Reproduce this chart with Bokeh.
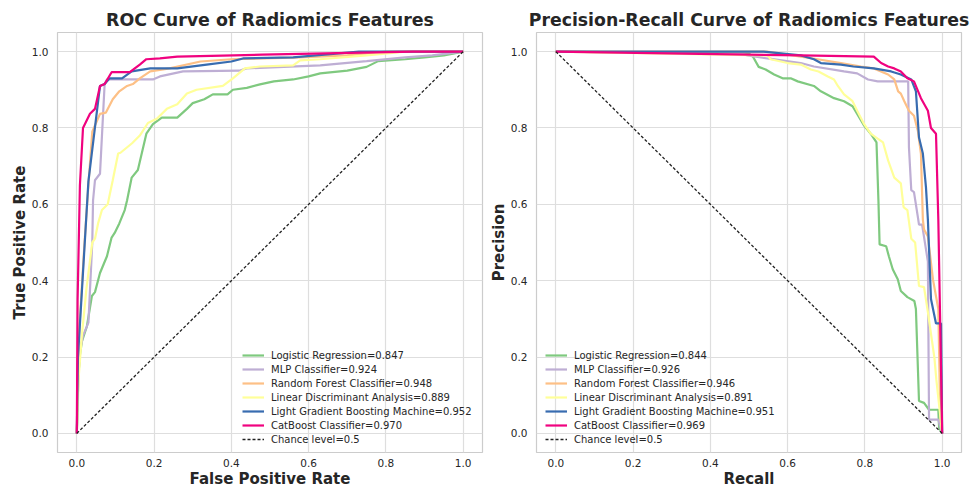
from bokeh.plotting import figure
from bokeh.layouts import row
from bokeh.models import Legend, LegendItem, FixedTicker, NumeralTickFormatter, Range1d
from bokeh.embed import file_html
from bokeh.resources import INLINE

# ---------------- data ----------------
model_names = ["Logistic Regression", "MLP Classifier", "Random Forest Classifier",
               "Linear Discriminant Analysis", "Light Gradient Boosting Machine", "CatBoost Classifier"]
colors = ["#7fc97f", "#beaed4", "#fdc086", "#ffff99", "#386cb0", "#f0027f"]
roc_auc = ["0.847", "0.924", "0.948", "0.889", "0.952", "0.970"]
pr_auc = ["0.844", "0.926", "0.946", "0.891", "0.951", "0.969"]
tick_values = [0.0, 0.2, 0.4, 0.6, 0.8, 1.0]

lr_fpr = [0.0, 0.004, 0.008, 0.013, 0.026, 0.039, 0.047, 0.06, 0.078, 0.09, 0.098, 0.11, 0.124, 0.13, 0.142, 0.158, 0.18, 0.197, 0.22, 0.26, 0.285, 0.30, 0.33, 0.352, 0.39, 0.404, 0.44, 0.474, 0.51, 0.56, 0.60, 0.63, 0.70, 0.75, 0.78, 0.85, 0.90, 0.95, 1.0]
lr_tpr = [0.0, 0.15, 0.205, 0.24, 0.28, 0.36, 0.37, 0.42, 0.464, 0.513, 0.525, 0.55, 0.585, 0.61, 0.67, 0.69, 0.785, 0.81, 0.827, 0.827, 0.85, 0.865, 0.875, 0.888, 0.888, 0.90, 0.905, 0.914, 0.922, 0.927, 0.935, 0.943, 0.95, 0.96, 0.975, 0.98, 0.985, 0.99, 1.0]
mlp_fpr = [0.0, 0.004, 0.008, 0.016, 0.03, 0.04, 0.042, 0.047, 0.06, 0.072, 0.078, 0.197, 0.215, 0.275, 0.42, 0.44, 0.63, 0.75, 0.85, 0.92, 1.0]
mlp_tpr = [0.0, 0.15, 0.215, 0.256, 0.29, 0.50, 0.61, 0.663, 0.68, 0.915, 0.927, 0.927, 0.935, 0.948, 0.95, 0.956, 0.964, 0.975, 0.985, 0.99, 1.0]
rf_fpr = [0.0, 0.005, 0.02, 0.03, 0.04, 0.06, 0.075, 0.093, 0.11, 0.13, 0.145, 0.163, 0.19, 0.24, 0.32, 0.40, 0.56, 0.70, 0.80, 1.0]
rf_tpr = [0.0, 0.25, 0.5, 0.65, 0.79, 0.837, 0.84, 0.875, 0.896, 0.91, 0.915, 0.93, 0.948, 0.956, 0.974, 0.98, 0.984, 0.99, 1.0, 1.0]
lda_fpr = [0.0, 0.005, 0.013, 0.025, 0.04, 0.047, 0.055, 0.065, 0.08, 0.093, 0.107, 0.113, 0.143, 0.163, 0.184, 0.207, 0.233, 0.26, 0.285, 0.31, 0.378, 0.404, 0.435, 0.474, 0.56, 0.578, 0.63, 0.75, 0.85, 1.0]
lda_tpr = [0.0, 0.15, 0.256, 0.38, 0.50, 0.51, 0.55, 0.585, 0.60, 0.663, 0.733, 0.735, 0.76, 0.78, 0.813, 0.824, 0.85, 0.862, 0.89, 0.90, 0.91, 0.93, 0.956, 0.961, 0.964, 0.977, 0.98, 0.99, 1.0, 1.0]
lgb_fpr = [0.0, 0.003, 0.03, 0.06, 0.072, 0.085, 0.117, 0.142, 0.19, 0.26, 0.336, 0.40, 0.43, 0.56, 0.73, 1.0]
lgb_tpr = [0.0, 0.2, 0.66, 0.91, 0.915, 0.93, 0.93, 0.948, 0.956, 0.956, 0.966, 0.974, 0.982, 0.985, 1.0, 1.0]
cb_fpr = [0.0, 0.002, 0.008, 0.016, 0.034, 0.047, 0.06, 0.072, 0.09, 0.137, 0.163, 0.18, 0.215, 0.26, 0.48, 0.87, 1.0]
cb_tpr = [0.0, 0.35, 0.65, 0.80, 0.837, 0.85, 0.91, 0.915, 0.946, 0.946, 0.966, 0.98, 0.982, 0.987, 0.992, 1.0, 1.0]

lr_rec = [0.0, 0.50, 0.51, 0.525, 0.543, 0.565, 0.587, 0.608, 0.626, 0.668, 0.686, 0.72, 0.746, 0.768, 0.78, 0.798, 0.815, 0.83, 0.835, 0.838, 0.855, 0.862, 0.872, 0.885, 0.893, 0.91, 0.928, 0.932, 0.94, 0.953, 0.966, 0.99, 0.992, 1.0]
lr_prec = [1.0, 0.995, 0.987, 0.96, 0.953, 0.94, 0.93, 0.93, 0.922, 0.91, 0.896, 0.878, 0.87, 0.857, 0.837, 0.806, 0.785, 0.762, 0.61, 0.495, 0.49, 0.464, 0.43, 0.404, 0.373, 0.357, 0.347, 0.326, 0.085, 0.08, 0.062, 0.062, 0.015, 0.0]
mlp_rec = [0.0, 0.478, 0.496, 0.548, 0.634, 0.668, 0.746, 0.78, 0.808, 0.833, 0.912, 0.914, 0.92, 0.927, 0.937, 0.94, 0.948, 0.963, 0.966, 0.99, 1.0]
mlp_prec = [1.0, 0.995, 0.99, 0.982, 0.97, 0.961, 0.948, 0.943, 0.927, 0.922, 0.922, 0.749, 0.637, 0.632, 0.567, 0.547, 0.547, 0.45, 0.036, 0.036, 0.0]
rf_rec = [0.0, 0.548, 0.58, 0.634, 0.678, 0.738, 0.79, 0.823, 0.86, 0.876, 0.886, 0.893, 0.902, 0.914, 0.927, 0.937, 0.945, 0.95, 0.953, 0.963, 0.976, 0.99, 0.995, 1.0]
rf_prec = [1.0, 1.0, 0.995, 0.987, 0.98, 0.97, 0.961, 0.956, 0.94, 0.927, 0.896, 0.89, 0.87, 0.845, 0.832, 0.793, 0.733, 0.56, 0.534, 0.516, 0.404, 0.326, 0.05, 0.0]
lda_rec = [0.0, 0.548, 0.556, 0.60, 0.634, 0.66, 0.68, 0.704, 0.72, 0.73, 0.746, 0.768, 0.78, 0.798, 0.815, 0.833, 0.847, 0.86, 0.876, 0.893, 0.90, 0.903, 0.91, 0.92, 0.93, 0.94, 0.953, 0.963, 0.98, 0.985, 1.0]
lda_prec = [1.0, 0.99, 0.98, 0.97, 0.966, 0.953, 0.948, 0.935, 0.927, 0.91, 0.888, 0.87, 0.845, 0.81, 0.785, 0.772, 0.762, 0.715, 0.67, 0.655, 0.593, 0.59, 0.585, 0.51, 0.50, 0.386, 0.383, 0.318, 0.197, 0.14, 0.0]
lgb_rec = [0.0, 0.538, 0.634, 0.668, 0.686, 0.738, 0.77, 0.823, 0.868, 0.893, 0.92, 0.932, 0.94, 0.95, 0.958, 0.963, 0.971, 0.984, 0.997, 1.0]
lgb_prec = [1.0, 1.0, 0.99, 0.98, 0.97, 0.966, 0.961, 0.956, 0.948, 0.94, 0.927, 0.896, 0.775, 0.733, 0.645, 0.56, 0.352, 0.288, 0.288, 0.0]
cb_rec = [0.0, 0.634, 0.823, 0.842, 0.86, 0.876, 0.893, 0.91, 0.927, 0.945, 0.963, 0.971, 0.984, 0.99, 1.0]
cb_prec = [1.0, 0.99, 0.987, 0.97, 0.961, 0.956, 0.948, 0.93, 0.922, 0.878, 0.845, 0.80, 0.785, 0.56, 0.0]

chance_x = [0.0, 1.0]
roc_chance_y = [0.0, 1.0]
pr_chance_y = [1.0, 0.0]

roc_series = [(lr_fpr, lr_tpr), (mlp_fpr, mlp_tpr), (rf_fpr, rf_tpr),
              (lda_fpr, lda_tpr), (lgb_fpr, lgb_tpr), (cb_fpr, cb_tpr)]
pr_series = [(lr_rec, lr_prec), (mlp_rec, mlp_prec), (rf_rec, rf_prec),
             (lda_rec, lda_prec), (lgb_rec, lgb_prec), (cb_rec, cb_prec)]

FONT = "DejaVu Sans"
TXT = "#262626"


def make_fig(title, title_size, xlabel, ylabel, series, aucs, chance_y, left, right, legend_x):
    p = figure(frame_width=425, height=490, output_backend="svg", toolbar_location=None,
               x_range=Range1d(-0.05, 1.05), y_range=Range1d(-0.05, 1.05),
               min_border_left=left, min_border_right=right,
               min_border_top=32, min_border_bottom=37)
    p.background_fill_color = "white"
    p.border_fill_color = "white"
    p.outline_line_color = "#cccccc"
    p.outline_line_width = 1.2

    p.title.text = title
    p.title.align = "center"
    p.title.text_font = FONT
    p.title.text_font_size = title_size
    p.title.text_font_style = "bold"
    p.title.text_color = TXT
    p.title.standoff = 6

    for ax in (p.xaxis[0], p.yaxis[0]):
        ax.ticker = FixedTicker(ticks=tick_values)
        ax.formatter = NumeralTickFormatter(format="0.0")
        ax.axis_line_color = None
        ax.major_tick_line_color = None
        ax.minor_tick_line_color = None
        ax.major_tick_out = 0
        ax.major_tick_in = 0
        ax.minor_tick_out = 0
        ax.minor_tick_in = 0
        ax.major_label_text_font = FONT
        ax.major_label_text_font_size = "10.5px"
        ax.major_label_text_color = TXT
        ax.axis_label_text_font = FONT
        ax.axis_label_text_font_size = "15px"
        ax.axis_label_text_font_style = "bold"
        ax.axis_label_text_color = TXT
    p.xaxis.major_label_standoff = 6
    p.xaxis.axis_label_standoff = 0
    p.yaxis.major_label_standoff = 9
    p.yaxis.axis_label_standoff = 0
    p.xaxis.axis_label = xlabel
    p.yaxis.axis_label = ylabel

    for g in (p.xgrid[0], p.ygrid[0]):
        g.ticker = FixedTicker(ticks=tick_values)
        g.grid_line_color = "#dedede"
        g.grid_line_width = 1.2

    items = []
    for name, (xs, ys), auc, col in zip(model_names, series, aucs, colors):
        r = p.line(xs, ys, line_color=col, line_width=2.2)
        items.append(LegendItem(label=f"{name}={auc}", renderers=[r]))
    rc = p.line(chance_x, chance_y, line_color="#222222", line_width=1.3, line_dash="3 2")
    items.append(LegendItem(label="Chance level=0.5", renderers=[rc]))

    leg = Legend(items=items, location=(legend_x, 6))
    leg.background_fill_alpha = 0.0
    leg.border_line_color = None
    leg.padding = 0
    leg.margin = 0
    leg.spacing = 0
    leg.glyph_height = 14
    leg.label_height = 14
    leg.glyph_width = 22
    leg.label_standoff = 7
    leg.label_text_font = FONT
    leg.label_text_font_size = "10px"
    leg.label_text_color = TXT
    p.add_layout(leg)
    return p


p1 = make_fig("ROC Curve of Radiomics Features", "17.4px", "False Positive Rate", "True Positive Rate",
              roc_series, roc_auc, roc_chance_y, 57, 4, 185)
p2 = make_fig("Precision-Recall Curve of Radiomics Features", "17.3px", "Recall", "Precision",
              pr_series, pr_auc, pr_chance_y, 50, 11, 9)

layout = row(p1, p2)
open("out.html", "w").write(file_html(layout, INLINE))
